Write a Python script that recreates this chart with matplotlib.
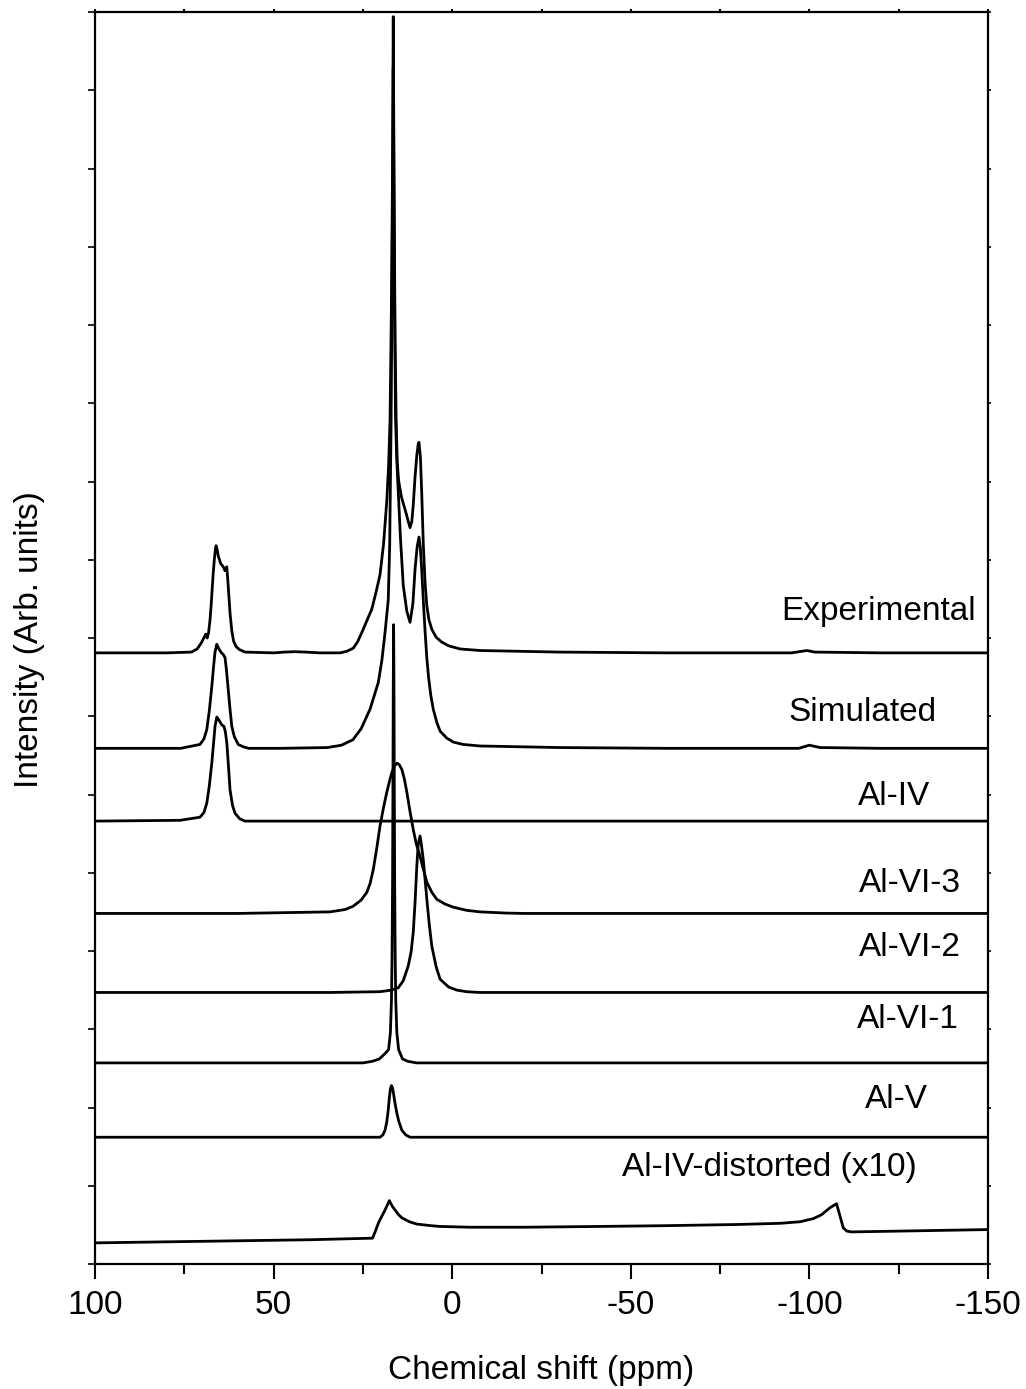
import matplotlib
matplotlib.use("Agg")
import matplotlib.pyplot as plt
from matplotlib.ticker import MultipleLocator

# ── Data ──────────────────────────────────────────────────────────────────────
# every trace: chemical shift (ppm) and intensity above its own baseline (arb. u.)

exp_ppm = [100, 80, 73, 71.4, 70.2, 69.0, 68.6, 68.2, 67.8, 67.5, 67.2, 66.9, 66.6,
           66.3, 66.1, 65.8, 65.5, 64.8, 64.1, 63.6, 63.1, 62.7, 62.2, 61.7, 61.2,
           60.5, 59.5, 58, 50, 47, 44, 41, 37, 31.4, 29.5, 27.7, 26.5, 25.3, 24.0,
           22.5, 21.3, 20.2, 19.2, 18.3, 17.8, 17.4, 17.0, 16.7, 16.5, 16.3, 16.0,
           15.7, 15.4, 15.0, 14.2, 13.0, 12.3, 11.8, 11.3, 10.9, 10.4, 9.9, 9.5,
           9.3, 8.9, 8.5, 8.1, 7.6, 7.1, 6.5, 5.7, 4.5, 3.0, 1.0, -2.2, -7.8, -30,
           -60, -95, -99.3, -101.5, -120, -150]
exp_int = [0, 0, 0.01, 0.05, 0.13, 0.24, 0.19, 0.26, 0.42, 0.60, 0.81, 1.02, 1.19,
           1.32, 1.37, 1.32, 1.24, 1.14, 1.10, 1.05, 1.10, 0.85, 0.51, 0.28, 0.15,
           0.08, 0.04, 0.01, 0, 0.01, 0.015, 0.01, 0, 0, 0.02, 0.06, 0.14, 0.26, 0.40,
           0.56, 0.78, 1.0, 1.4, 1.95, 2.4, 2.98, 4.5, 6.2, 8.13, 6.2, 4.0,
           3.0, 2.45, 2.2, 1.99, 1.80, 1.68, 1.60, 1.68, 1.89, 2.25, 2.53, 2.67,
           2.69, 2.5, 2.0, 1.4, 0.9, 0.6, 0.42, 0.30, 0.20, 0.14, 0.09, 0.05, 0.03, 0.01,
           0, 0, 0.03, 0.01, 0, 0]

sim_ppm = [100, 76, 70.6, 69.5, 68.7, 68.0, 67.3, 66.8, 66.4, 65.9, 65.6, 65.3, 64.6,
           64.1, 63.6, 63.2, 62.7, 62.2, 61.7, 61.0, 59.9, 58.5, 57, 48, 34.9, 31,
           27.8, 25.5, 23.0, 20.7, 19.7, 18.8, 17.9, 17.5, 17.1, 16.8, 16.5, 16.2,
           15.9, 15.6, 15.4, 14.5, 13.7, 12.7, 11.8, 11.0, 10.4, 9.8, 9.3, 8.9, 8.5,
           8.1, 7.6, 7.1, 6.6, 6.0, 5.3, 4.3, 3.4, 1.5, -0.3, -3, -7.8, -30, -60,
           -97, -100, -103, -120, -150]
sim_int = [0, 0, 0.05, 0.12, 0.24, 0.48, 0.79, 1.05, 1.23, 1.33, 1.30, 1.27, 1.22,
           1.20, 1.16, 1.0, 0.75, 0.50, 0.28, 0.15, 0.05, 0.02, 0, 0, 0.01, 0.04,
           0.11, 0.25, 0.50, 0.84, 1.12, 1.48, 1.90, 2.6, 4.2, 6.2, 8.7, 6.2,
           4.3, 3.8, 3.57, 2.7, 2.08, 1.75, 1.61, 1.85, 2.29, 2.58, 2.70, 2.55, 2.25,
           1.9, 1.5, 1.15, 0.9, 0.68, 0.50, 0.33, 0.22, 0.13, 0.08, 0.05, 0.03, 0.01, 0,
           0, 0.04, 0.01, 0, 0]

aliv_ppm = [100, 76.2, 70.6, 69.5, 68.7, 68.0, 67.3, 66.8, 66.4, 65.9, 65.6, 65.3,
            64.5, 63.9, 63.5, 63.1, 62.6, 62.2, 61.5, 60.8, 59.5, 58, 48, -150]
aliv_int = [0, 0.01, 0.05, 0.11, 0.23, 0.45, 0.74, 1.0, 1.21, 1.33, 1.31, 1.29,
            1.23, 1.21, 1.14, 1.0, 0.68, 0.40, 0.20, 0.10, 0.03, 0, 0, 0]

alvi3_ppm = [100, 60, 34.2, 30, 27.8, 25.5, 23.9, 23.0, 22.1, 21.1, 20.2, 19.2, 18.3,
             17.5, 16.9, 16.1, 15.4, 14.8, 14.1, 13.4, 12.7, 11.8, 10.9, 10.0, 9.0,
             8.0, 7.1, 5.7, 4.3, 2.0, -0.3, -4, -7.8, -15, -20, -150]
alvi3_int = [0, 0, 0.02, 0.05, 0.09, 0.17, 0.27, 0.38, 0.56, 0.84, 1.12, 1.36, 1.55,
             1.70, 1.80, 1.89, 1.92, 1.90, 1.84, 1.72, 1.55, 1.30, 1.07, 0.88, 0.73,
             0.55, 0.40, 0.27, 0.18, 0.12, 0.08, 0.04, 0.02, 0.005, 0, 0]

alvi2_ppm = [100, 34.2, 20.2, 17, 15.1, 13.7, 12.3, 11.5, 10.9, 10.4, 9.9, 9.5, 9.0,
             8.6, 8.1, 7.6, 7.1, 6.4, 5.7, 4.5, 3.4, 1.0, -1.3, -4, -7.8, -150]
alvi2_int = [0, 0, 0.01, 0.03, 0.06, 0.15, 0.34, 0.52, 0.77, 1.15, 1.62, 1.9, 2.0,
             1.88, 1.70, 1.45, 1.19, 0.86, 0.59, 0.33, 0.17, 0.07, 0.03, 0.01, 0, 0]

alvi1_ppm = [100, 25, 22.4, 20.4, 18.8, 17.8, 17.3, 17.0, 16.85, 16.7, 16.6, 16.5,
             16.4, 16.3, 16.2, 16.1, 15.95, 15.8, 15.5, 15.0, 13.9, 12.4, 10, -150]
alvi1_int = [0, 0, 0.02, 0.05, 0.12, 0.17, 0.39, 0.81, 1.31, 2.27, 3.4, 4.8,
             5.6, 4.8, 3.4, 2.27, 1.31, 0.81, 0.39, 0.17, 0.05, 0.02, 0, 0]

alv_ppm = [100, 30, 20.2, 19.4, 18.8, 18.3, 17.9, 17.6, 17.3, 17.0, 16.7, 16.4, 16.0,
           15.5, 15.0, 14.1, 13.0, 11.8, -150]
alv_int = [0, 0, 0, 0.03, 0.09, 0.20, 0.35, 0.50, 0.62, 0.66, 0.63, 0.55, 0.43,
           0.31, 0.21, 0.09, 0.03, 0, 0]

dist_ppm = [100, 40, 22.3, 21.5, 20.6, 19.6, 18.8, 17.6, 16.8, 16.0, 15.0, 14.1, 12.0,
            9.9, 6.0, 3.4, -5, -20, -41.4, -60, -80, -91.8, -97.4, -101.1, -103.4,
            -105.8, -107.6, -109.5, -110.5, -111.8, -150]
dist_int = [0, 0.04, 0.06, 0.15, 0.26, 0.35, 0.42, 0.54, 0.47, 0.42, 0.36, 0.32, 0.27,
            0.24, 0.22, 0.21, 0.20, 0.20, 0.21, 0.22, 0.235, 0.25, 0.27, 0.31, 0.36,
            0.45, 0.50, 0.19, 0.15, 0.14, 0.17]

labels = ["Experimental", "Simulated", "Al-IV", "Al-VI-3", "Al-VI-2", "Al-VI-1",
          "Al-V", "Al-IV-distorted (x10)"]
traces = [(exp_ppm, exp_int), (sim_ppm, sim_int), (aliv_ppm, aliv_int),
          (alvi3_ppm, alvi3_int), (alvi2_ppm, alvi2_int), (alvi1_ppm, alvi1_int),
          (alv_ppm, alv_int), (dist_ppm, dist_int)]

# ── Layout / style ────────────────────────────────────────────────────────────

offsets = [7.81, 6.59, 5.66, 4.48, 3.47, 2.57, 1.62, 0.27]   # stacking baselines
label_xy = [(-119.5, 8.34), (-115.0, 7.05), (-123.7, 5.97), (-128.2, 4.86),
            (-128.2, 4.04), (-127.6, 3.12), (-124.4, 2.10), (-88.7, 1.23)]

FS = 24

plt.rcParams["font.family"] = ["Liberation Sans", "DejaVu Sans"]
plt.rcParams["axes.unicode_minus"] = False

fig = plt.figure(figsize=(10.26, 13.89), dpi=100)
ax = fig.add_axes([95 / 1026, 1 - 1264 / 1389, 893 / 1026, 1252 / 1389])

for (xs, ys), off in zip(traces, offsets):
    ax.plot(xs, [v + off for v in ys], color="black", lw=2.0,
            solid_joinstyle="round", solid_capstyle="round")

for name, (lx, ly) in zip(labels, label_xy):
    ax.text(lx, ly, name, ha="center", va="center", fontsize=FS)

ax.set_xlim(100, -150)
ax.set_ylim(0, 16)

ax.xaxis.set_major_locator(MultipleLocator(50))
ax.xaxis.set_minor_locator(MultipleLocator(25))
ax.yaxis.set_major_locator(MultipleLocator(1))
ax.set_yticklabels([])

ax.tick_params(axis="x", which="major", direction="out", length=11, width=1.5,
               labelsize=FS, pad=8)
ax.tick_params(axis="x", which="minor", direction="out", length=7, width=1.5)
ax.tick_params(axis="x", which="both", top=True)
ax.tick_params(axis="y", which="major", direction="out", length=5, width=1.2,
               right=True)

for sp in ax.spines.values():
    sp.set_linewidth(1.6)

# shorter ticks on the mirrored axes
for t in ax.xaxis.get_major_ticks() + ax.xaxis.get_minor_ticks():
    t.tick2line.set_markersize(2)
for t in ax.yaxis.get_major_ticks():
    t.tick2line.set_markersize(2)

ax.set_xlabel("Chemical shift (ppm)", fontsize=FS, labelpad=24)
fig.text(30 / 1026, 1 - 640 / 1389, "Intensity (Arb. units)", rotation=90,
         ha="center", va="center", fontsize=FS)

fig.savefig("out.png", dpi=100)
